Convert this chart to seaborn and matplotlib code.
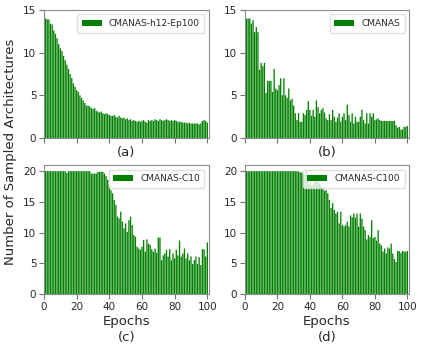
import numpy as np
import matplotlib
matplotlib.use("Agg")
import matplotlib.pyplot as plt
import seaborn as sns

epochs = np.arange(1, 101)

vals_a = [14.0, 13.9, 13.9, 13.4, 13.3, 12.6, 12.2, 11.7, 11.0, 10.5,
          10.2, 9.6, 9.1, 8.6, 8.1, 7.5, 7.0, 6.4, 6.0, 5.6,
          5.4, 5.0, 4.7, 4.4, 4.1, 3.8, 3.8, 3.7, 3.5, 3.4,
          3.5, 3.2, 3.1, 3.0, 3.1, 2.9, 2.8, 2.9, 2.8, 2.7,
          2.6, 2.6, 2.7, 2.5, 2.4, 2.6, 2.4, 2.3, 2.4, 2.2,
          2.3, 2.1, 2.2, 2.0, 2.1, 2.0, 1.9, 2.0, 1.9, 2.0,
          2.1, 1.9, 1.8, 2.1, 2.0, 2.1, 2.0, 2.2, 2.1, 2.0,
          2.2, 2.1, 2.0, 2.1, 2.2, 2.1, 2.0, 2.1, 2.0, 2.1,
          2.0, 1.9, 1.9, 1.9, 1.8, 1.8, 1.8, 1.7, 1.8, 1.7,
          1.7, 1.7, 1.7, 1.7, 1.6, 1.7, 2.0, 2.1, 2.0, 1.8]

vals_b = [14.0, 14.0, 14.0, 13.4, 13.8, 12.4, 13.0, 12.4, 8.0, 8.8,
          8.4, 8.8, 5.3, 6.7, 6.7, 6.7, 5.4, 8.1, 5.8, 5.6,
          6.2, 7.0, 5.0, 7.0, 5.0, 4.7, 5.8, 4.4, 4.6, 3.8,
          2.9, 2.1, 2.9, 1.9, 1.9, 2.9, 2.7, 3.3, 4.3, 3.3,
          2.6, 3.3, 2.5, 4.4, 3.6, 2.9, 3.3, 3.5, 3.0, 2.3,
          2.1, 2.8, 2.1, 3.3, 2.5, 1.9, 2.4, 2.9, 1.9, 2.5,
          2.9, 2.1, 3.9, 2.7, 1.9, 2.9, 1.7, 2.5, 1.9, 1.9,
          2.5, 3.3, 2.1, 1.7, 2.9, 1.7, 2.9, 2.5, 2.9, 2.1,
          2.2, 2.3, 2.1, 2.0, 2.0, 2.0, 2.0, 2.0, 2.0, 2.0,
          2.0, 2.0, 1.5, 1.2, 1.3, 1.0, 1.0, 1.3, 1.3, 1.4]

vals_c = [20.0] * 13 + [19.7] + [20.0] * 14 + [
          19.6, 19.6, 19.6, 19.6, 19.9, 19.9, 19.9, 19.9, 19.6, 19.2,
          18.6, 17.7, 16.9, 16.4, 15.3, 14.5, 12.6, 12.3, 13.4, 11.8,
          10.7, 11.5, 10.1, 12.0, 12.6, 11.2, 9.6, 9.3, 7.7, 7.4,
          7.2, 7.7, 8.8, 6.9, 8.9, 8.2, 8.0, 7.3, 6.9, 7.4,
          6.7, 9.2, 9.2, 5.5, 6.3, 6.6, 7.2, 6.1, 7.3, 5.5,
          6.6, 5.8, 7.2, 6.3, 8.7, 6.1, 6.6, 7.4, 5.8, 6.6,
          5.5, 6.1, 4.9, 5.5, 6.1, 4.9, 6.0, 4.7, 7.3, 7.3,
          6.1, 8.4]

vals_d = [20.0] * 33 + [
          19.8, 19.8, 19.5, 19.4, 20.0, 19.2, 18.0, 17.7, 17.8, 18.7,
          18.8, 18.3, 18.0, 17.5, 17.2, 16.8, 16.9, 16.4, 15.3, 14.0,
          14.8, 13.7, 13.1, 13.4, 11.5, 13.4, 11.2, 11.0, 11.2, 11.8,
          11.0, 12.8, 12.5, 13.1, 12.4, 13.1, 11.0, 13.1, 12.3, 11.0,
          10.4, 8.9, 9.6, 9.3, 12.0, 9.1, 9.3, 8.7, 10.4, 8.2,
          7.9, 6.9, 7.4, 6.6, 7.6, 7.4, 8.2, 6.6, 5.7, 5.2,
          7.0, 7.0, 6.7, 7.0, 6.9, 6.9, 7.0]

labels = ["CMANAS-h12-Ep100", "CMANAS", "CMANAS-C10", "CMANAS-C100"]
letters = ["(a)", "(b)", "(c)", "(d)"]
series = [vals_a, vals_b, vals_c, vals_d]

sns.set_style("white")
plt.rcParams["font.family"] = ["DejaVu Sans"]

fig = plt.figure(figsize=(4.23, 3.49), dpi=100)
boxes = [
    [0.104, 0.6046, 0.390, 0.3668],
    [0.579, 0.6046, 0.388, 0.3668],
    [0.104, 0.1576, 0.390, 0.3696],
    [0.579, 0.1576, 0.388, 0.3696],
]

for i in range(4):
    ax = fig.add_axes(boxes[i])
    sns.barplot(x=epochs, y=series[i], native_scale=True, color="green",
                saturation=1, width=0.8, label=labels[i], ax=ax,
                edgecolor="none", linewidth=0)
    # bars are ~1.3 px wide: no pixel snapping, so none vanish
    for p in ax.patches:
        p.set_snap(False)
        p.set_antialiased(True)
    ax.set_xlim(0, 101)
    ax.set_xticks([0, 20, 40, 60, 80, 100])
    if i < 2:
        ax.set_ylim(0, 15)
        ax.set_yticks([0, 5, 10, 15])
        ax.set_xticklabels([])
        ax.text(0.5, -0.11, letters[i], transform=ax.transAxes,
                ha="center", va="center", fontsize=9.5)
    else:
        ax.set_ylim(0, 21)
        ax.set_yticks([0, 5, 10, 15, 20])
        ax.set_xlabel("Epochs", fontsize=9.5, labelpad=2.5)
        ax.text(0.5, -0.34, letters[i], transform=ax.transAxes,
                ha="center", va="center", fontsize=9.5)
    ax.set_ylabel("")
    ax.tick_params(axis="both", direction="out", length=3.5, width=0.8,
                   color="0.45", labelsize=7.5, pad=2, labelcolor="0.15",
                   bottom=True, left=True)
    for s in ax.spines.values():
        s.set_color("0.55")
        s.set_linewidth(0.8)
    ax.legend(loc="upper right", fontsize=6.5, frameon=True,
              edgecolor="0.85", handlelength=2.2, borderpad=0.5)

fig.text(0.025, 0.565, "Number of Sampled Architectures", rotation=90,
         ha="center", va="center", fontsize=9.5)

fig.savefig("out.png", dpi=100)
